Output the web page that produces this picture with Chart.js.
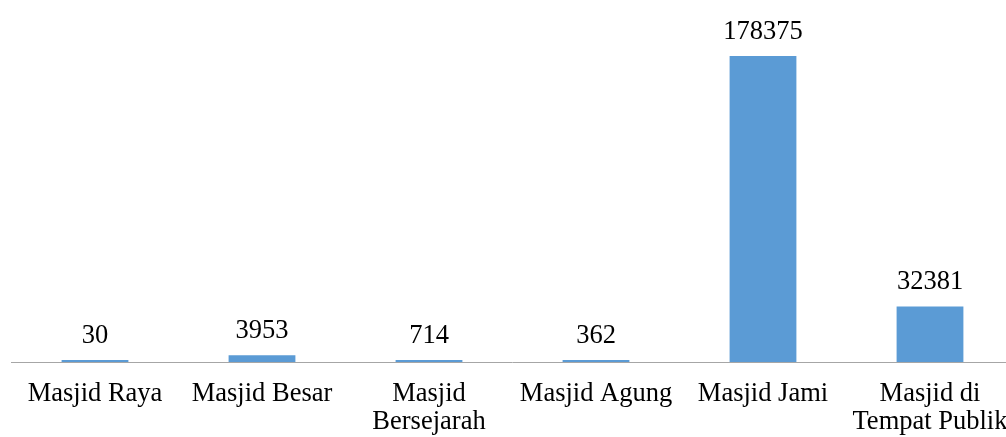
<!DOCTYPE html>
<html>
<head>
<meta charset="utf-8">
<script src="https://cdn.jsdelivr.net/npm/chart.js@4/dist/chart.umd.min.js"></script>
<style>
  html, body { margin: 0; padding: 0; background: #fff; overflow: hidden; }
  #wrap { width: 1020px; height: 437px; position: relative; }
  #warm { position: absolute; left: -9999px; top: 0; font: 26px "Liberation Serif"; }
</style>
</head>
<body>
<span id="warm">Masjid 0123456789</span>
<div id="wrap"><canvas id="masjidChart"></canvas></div>
<script>
// Jumlah masjid per tipe
const categories = [
    'Masjid Raya',
    'Masjid Besar',
    ['Masjid', 'Bersejarah'],
    'Masjid Agung',
    'Masjid Jami',
    ['Masjid di', 'Tempat Publik']
];
const counts = [30, 3953, 714, 362, 178375, 32381];

const serif = '"Liberation Serif", serif';
const fontSize = 26.5;

// Draw the value above each bar
const valueLabels = {
    id: 'valueLabels',
    afterDatasetsDraw(chart) {
        const ctx = chart.ctx;
        const meta = chart.getDatasetMeta(0);
        ctx.save();
        ctx.font = fontSize + 'px ' + serif;
        ctx.fillStyle = '#000';
        ctx.textAlign = 'center';
        ctx.textBaseline = 'alphabetic';
        meta.data.forEach((bar, i) => {
            ctx.fillText(String(counts[i]), bar.x, bar.y - 17);
        });
        ctx.restore();
    }
};

function drawChart() {
    const ctx = document.getElementById('masjidChart').getContext('2d');
    new Chart(ctx, {
        type: 'bar',
        data: {
            labels: categories,
            datasets: [{
                data: counts,
                backgroundColor: '#5b9bd5',
                barPercentage: 0.4,
                categoryPercentage: 1.0,
                minBarLength: 2
            }]
        },
        options: {
            responsive: true,
            maintainAspectRatio: false,
            animation: false,
            layout: { padding: { left: 11.5, right: 6.5, top: 19, bottom: 0 } },
            plugins: {
                legend: { display: false },
                tooltip: { enabled: false }
            },
            scales: {
                x: {
                    grid: { display: false, drawTicks: false },
                    border: { display: true, color: '#a6a6a6', width: 1 },
                    ticks: {
                        color: '#000',
                        padding: 18,
                        maxRotation: 0,
                        autoSkip: false,
                        font: { family: serif, size: fontSize, lineHeight: 1.06 }
                    },
                    // axis band below the bars: labels run off the bottom edge like the source
                    afterFit(scale) {
                        scale.height = 75;
                        scale.paddingLeft = 0;
                        scale.paddingRight = 0;
                    }
                },
                y: {
                    display: false,
                    min: 0,
                    max: 200000
                }
            }
        },
        plugins: [valueLabels]
    });
}

// make sure the serif face is ready before the canvas draws text
document.fonts.load('26px "Liberation Serif"')
    .then(() => document.fonts.ready)
    .then(() => setTimeout(drawChart, 50), drawChart);
</script>
</body>
</html>
